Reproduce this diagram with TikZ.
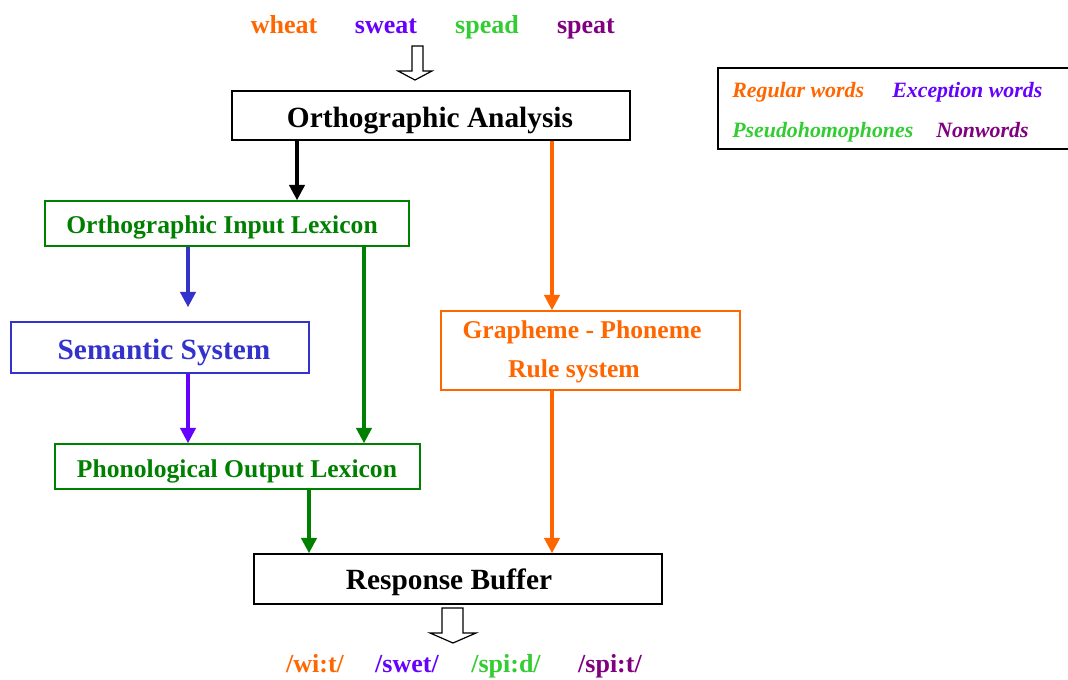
\documentclass[tikz,border=0pt]{standalone}
\usepackage{fontspec}
\setmainfont{Liberation Serif}
\usetikzlibrary{arrows.meta,fit}

\definecolor{rorange}{HTML}{FF6600}
\definecolor{rviolet}{HTML}{6600FF}
\definecolor{rlgreen}{HTML}{33CC33}
\definecolor{rplum}{HTML}{800080}
\definecolor{rgreen}{HTML}{008000}
\definecolor{rblue}{HTML}{3333CC}

\tikzset{
  box/.style={draw=#1, line width=1.2pt, inner sep=0pt, fill=white},
  boxtext/.style={font=\bfseries\fontsize{#1}{#1}\selectfont, inner sep=0pt, anchor=base},
  word/.style={font=\bfseries\fontsize{19.5}{19.5}\selectfont, inner sep=0pt, anchor=base, text=#1},
  legendtext/.style={font=\bfseries\itshape\fontsize{16.4}{16.4}\selectfont, inner sep=0pt, anchor=base west, text=#1},
  flow/.style={draw=#1, line width=2.5pt, -{Triangle[length=11.5pt,width=11.5pt]}},
  hollow/.style={draw=black, line width=0.9pt, fill=white, line join=miter}
}

\begin{document}
\begin{tikzpicture}[x=0.75pt,y=-0.75pt]
\clip (0,0) rectangle (1068,679);
\fill[white] (0,0) rectangle (1068,679);

% input words
\node[word=rorange] (w1) at (284,33) {wheat};
\node[word=rviolet] (w2) at (386,33) {sweat};
\node[word=rlgreen] (w3) at (487,33) {spead};
\node[word=rplum]   (w4) at (586,33) {speat};

% hollow input arrow
\draw[hollow] (412,46) -- (423,46) -- (423,71) -- (432,71) -- (415,80) -- (398,71) -- (412,71) -- cycle;

% legend
\node[box=black, fit={(718,68) (1080,149)}] (legend) {};
\node[legendtext=rorange] (l1) at (732,97) {Regular words};
\node[legendtext=rviolet] (l2) at (892,97) {Exception words};
\node[legendtext=rlgreen] (l3) at (732,137) {Pseudohomophones};
\node[legendtext=rplum]   (l4) at (936,137) {Nonwords};

% processing boxes
\node[box=black,  fit={(232,91) (630,140)}]  (oa)  {};
\node[box=rgreen, fit={(45,201) (409,246)}]  (oil) {};
\node[box=rblue,  fit={(11,322) (309,373)}]  (ss)  {};
\node[box=rorange,fit={(441,311) (740,390)}] (gp)  {};
\node[box=rgreen, fit={(55,444) (420,489)}]  (pol) {};
\node[box=black,  fit={(254,554) (662,604)}] (rb)  {};

\node[boxtext=22]   (oat)  at (430,127) {Orthographic Analysis};
\node[boxtext=19.2, text=rgreen] (oilt) at (222,233) {Orthographic Input Lexicon};
\node[boxtext=22,   text=rblue]  (sst)  at (164,359) {Semantic System};
\node[boxtext=19.2, text=rorange] (gpt1) at (582,338) {Grapheme - Phoneme};
\node[boxtext=19.2, text=rorange] (gpt2) at (574,377) {Rule system};
\node[boxtext=19.2, text=rgreen] (polt) at (237,477) {Phonological Output Lexicon};
\node[boxtext=22]   (rbt)  at (449,589) {Response Buffer};

% routes
\coordinate (c188) at (188,0);
\coordinate (c297) at (297,0);
\coordinate (c309) at (309,0);
\coordinate (c364) at (364,0);
\coordinate (c552) at (552,0);

\draw[flow=black]   (oa.south -| c297)  -- (oil.north -| c297);
\draw[flow=rorange] (oa.south -| c552)  -- (gp.north -| c552);
\draw[flow=rblue, shorten >=10.5pt] (oil.south -| c188) -- (ss.north -| c188);
\draw[flow=rgreen]  (oil.south -| c364) -- (pol.north -| c364);
\draw[flow=rviolet] (ss.south -| c188)  -- (pol.north -| c188);
\draw[flow=rgreen]  (pol.south -| c309) -- (rb.north -| c309);
\draw[flow=rorange] (gp.south -| c552)  -- (rb.north -| c552);

% hollow output arrow
\draw[hollow] (442,608) -- (463,608) -- (463,633) -- (476,633) -- (453,643) -- (430,633) -- (442,633) -- cycle;

% output pronunciations
\node[word=rorange] (p1) at (315,672) {/wi:t/};
\node[word=rviolet] (p2) at (407,672) {/swet/};
\node[word=rlgreen] (p3) at (506,672) {/spi:d/};
\node[word=rplum]   (p4) at (610,672) {/spi:t/};
\end{tikzpicture}
\end{document}
